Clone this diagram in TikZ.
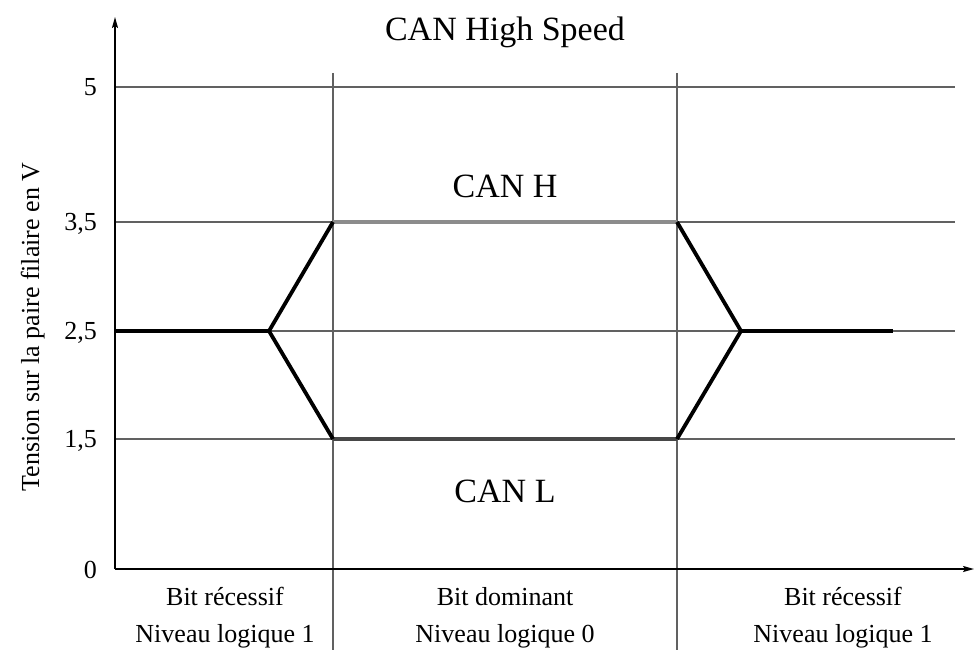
\documentclass[tikz,border=0pt]{standalone}
\usepackage{fontspec}
\setmainfont{Liberation Serif}
\usetikzlibrary{arrows.meta}
\begin{document}
\begin{tikzpicture}[x=1pt,y=-1pt,
  gridline/.style={draw=black!62,line width=1.2pt},
  axisline/.style={draw=black,line width=1.5pt,-{Stealth[length=11pt,width=6pt,inset=2pt]}},
  sig/.style={draw=black,line width=3.8pt,line join=miter},
  canh/.style={draw=black!45,line width=4.8pt},
  canl/.style={draw=black!72,line width=4.8pt},
  small/.style={font=\fontsize{26}{30}\selectfont,inner sep=0pt},
  big/.style={font=\fontsize{34}{40}\selectfont,inner sep=0pt}]
\useasboundingbox (0,0) rectangle (974,650);
% grid coordinates
\coordinate (g5a) at (115,87);   \coordinate (g5b) at (955,87);
\coordinate (g35a) at (115,222); \coordinate (g35b) at (955,222);
\coordinate (g25a) at (115,331); \coordinate (g25b) at (955,331);
\coordinate (g15a) at (115,439); \coordinate (g15b) at (955,439);
\coordinate (v1a) at (333,73);   \coordinate (v1b) at (333,650);
\coordinate (v2a) at (677,73);   \coordinate (v2b) at (677,650);
\coordinate (o) at (115,569);
\coordinate (ytip) at (115,17);
\coordinate (xtip) at (974,569);
% grid
\draw[gridline] (g5a) -- (g5b);
\draw[gridline] (g35a) -- (g35b);
\draw[gridline] (g25a) -- (g25b);
\draw[gridline] (g15a) -- (g15b);
\draw[gridline] (v1a) -- (v1b);
\draw[gridline] (v2a) -- (v2b);
% axes
\draw[axisline] (o) -- (ytip);
\draw[axisline] (o) -- (xtip);
% signal
\coordinate (s0) at (115,331);
\coordinate (j1) at (269,331);
\coordinate (h1) at (333,222);
\coordinate (l1) at (333,439);
\coordinate (h2) at (677,222);
\coordinate (l2) at (677,439);
\coordinate (j2) at (741,331);
\coordinate (s1) at (893,331);
\draw[canh] (h1) -- (h2);
\draw[canl] (l1) -- (l2);
\draw[sig] (s0) -- (j1) -- (h1);
\draw[sig] (j1) -- (l1);
\draw[sig] (h2) -- (j2) -- (l2);
\draw[sig] (j2) -- (s1);
% tick labels
\node[small,anchor=base east] (t5) at (97,96) {5};
\node[small,anchor=base east] (t35) at (97,230) {3,5};
\node[small,anchor=base east] (t25) at (97,339) {2,5};
\node[small,anchor=base east] (t15) at (97,447) {1,5};
\node[small,anchor=base east] (t0) at (97,578) {0};
% titles
\node[big,anchor=base] (title) at (505,41) {CAN High Speed};
\node[big,anchor=base] (canH) at (505,197) {CAN H};
\node[big,anchor=base] (canL) at (505,502) {CAN L};
% y label
\node[small,anchor=base,rotate=90] (ylab) at (39,327) {Tension sur la paire filaire en V};
% bottom labels
\node[small,anchor=base] (b1a) at (225,605) {Bit récessif};
\node[small,anchor=base] (b1b) at (225,642) {Niveau logique 1};
\node[small,anchor=base] (b2a) at (505,605) {Bit dominant};
\node[small,anchor=base] (b2b) at (505,642) {Niveau logique 0};
\node[small,anchor=base] (b3a) at (843,605) {Bit récessif};
\node[small,anchor=base] (b3b) at (843,642) {Niveau logique 1};
\end{tikzpicture}
\end{document}
